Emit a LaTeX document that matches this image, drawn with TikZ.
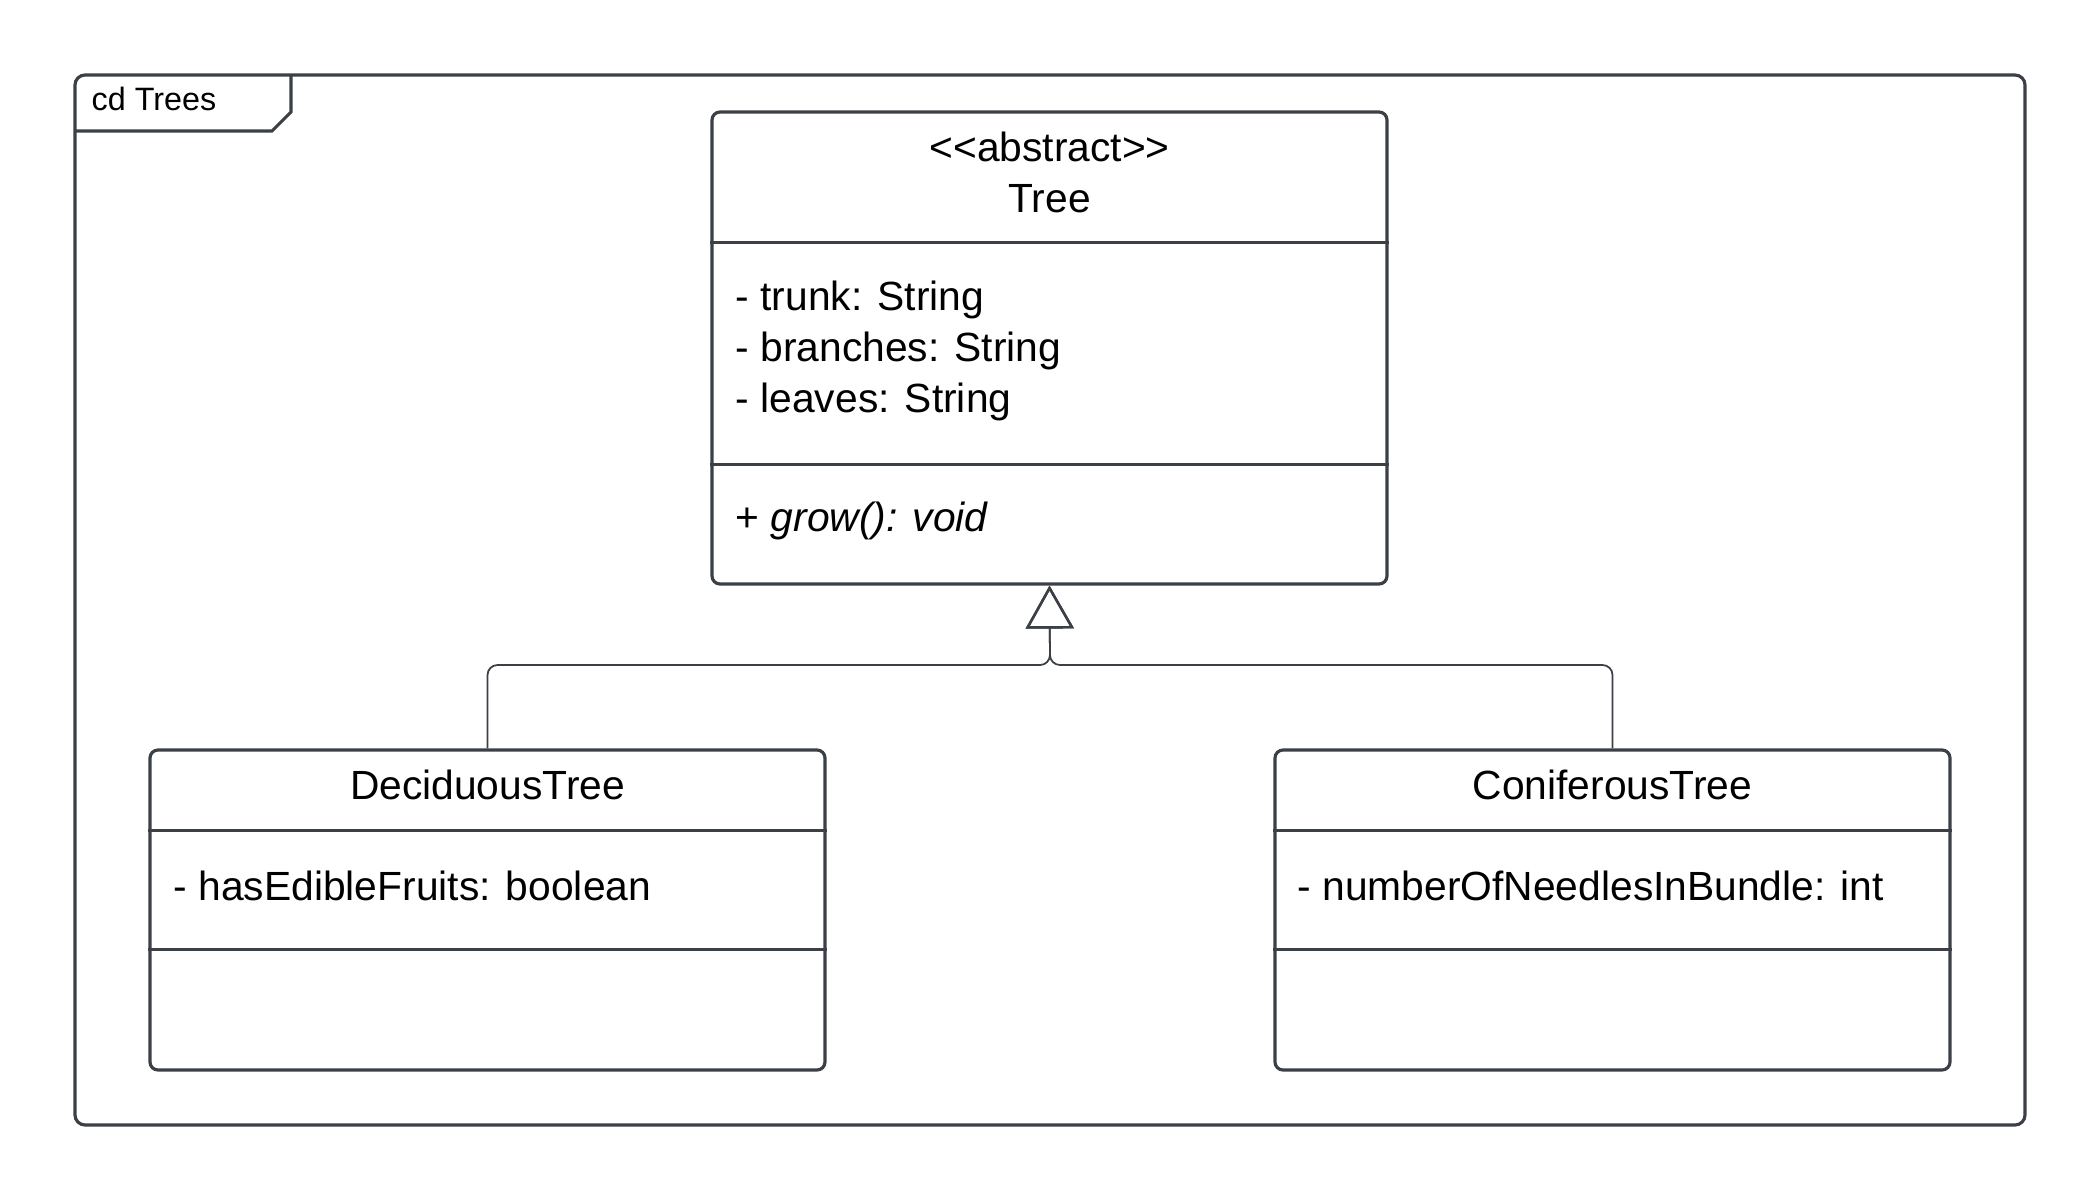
\documentclass[tikz,border=0pt]{standalone}
\usepackage{fontspec}
\setmainfont{Liberation Sans}
\usetikzlibrary{positioning,arrows.meta,calc}
\definecolor{umlline}{HTML}{3B3F46}

\begin{document}
\begin{tikzpicture}[x=0.1mm,y=-0.1mm,font=\fontsize{11.6}{14.5}\selectfont,
  cls/.style={draw=umlline,line width=0.9pt,rounded corners=0.8mm,minimum width=67.5mm,inner sep=0pt},
  sep/.style={draw=umlline,line width=0.9pt},
  att/.style={anchor=west,align=left,inner sep=0pt},
  nm/.style={align=center,inner sep=0pt},
  gen/.style={draw=umlline,line width=0.5pt,rounded corners=1mm,-{Triangle[open,length=4.3mm,width=4.8mm,line width=0.7pt]}}]
\useasboundingbox (0,0) rectangle (2100,1200);
% frame
\draw[sep,rounded corners=1mm] (75,75) rectangle (2025,1125);
\draw[sep] (75,131) -- (272,131) -- (291,112) -- (291,75);
\node[anchor=west,inner sep=0pt,font=\fontsize{9.2}{11}\selectfont] (frm) at (91,99) {cd Trees};
% abstract class
\node[cls,minimum height=47.2mm] (tree) at (1049.5,348) {};
\draw[sep] ($(tree.north west)+(0,132)$) -- ($(tree.north east)+(0,132)$);
\draw[sep] ($(tree.north west)+(0,354)$) -- ($(tree.north east)+(0,354)$);
\node[nm] (treenm) at (1049.5,172) {<\kern0pt<abstract>\kern0pt>\\Tree};
\node[att] (treeat) at (735,351) {- trunk: String\\- branches: String\\- leaves: String};
\node[att] (treeop) at (735,521) {+ \textit{grow(): void}};
% subclasses
\node[cls,minimum height=32mm] (dec) at (487.5,910) {};
\draw[sep] ($(dec.north west)+(0,82)$) -- ($(dec.north east)+(0,82)$);
\draw[sep] ($(dec.north west)+(0,201)$) -- ($(dec.north east)+(0,201)$);
\node[nm] (decnm) at (487.5,785) {DeciduousTree};
\node[att] (decat) at (173,886) {- hasEdibleFruits: boolean};
\node[cls,minimum height=32mm] (con) at (1612.5,910) {};
\draw[sep] ($(con.north west)+(0,82)$) -- ($(con.north east)+(0,82)$);
\draw[sep] ($(con.north west)+(0,201)$) -- ($(con.north east)+(0,201)$);
\node[nm] (connm) at (1612.5,785) {ConiferousTree};
\node[att] (conat) at (1297,886) {- numberOfNeedlesInBundle: int};
% generalisation
\coordinate (jn) at (1050,665);
\draw[gen] (dec.north) |- (jn) -- (tree.south);
\draw[gen] (con.north) |- (jn) -- (tree.south);
\end{tikzpicture}
\end{document}
